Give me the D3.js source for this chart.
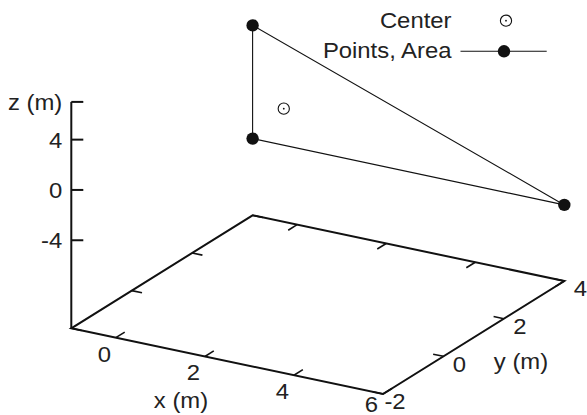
<!DOCTYPE html>
<html><head><meta charset="utf-8">
<script src="https://cdn.jsdelivr.net/npm/d3@7"></script>
<style>body{margin:0;background:#fff}text{font-family:"Liberation Sans",Arial,sans-serif;fill:#222}</style>
</head><body>
<svg id="c" width="587" height="415"></svg>
<script>
// ---- data ----
const pointsX = [-1, -1, 6];
const pointsY = [4, 4, 4];
const pointsZ = [4.1, -4.9, -4.95];
const centerX = [-0.3];
const centerY = [4];
const centerZ = [-2];
const xTicks = [0, 2, 4, 6];
const yTicks = [-2, 0, 2, 4];
const zTicks = [-4, 0, 4];
const xDomain = [-1, 6], yDomain = [-2, 4], zDomain = [-11, 7];
const legendLabels = ["Center", "Points, Area"];
const axisLabels = {x: "x (m)", y: "y (m)", z: "z (m)"};

// ---- projection built from d3 scales ----
const FS = 22, SX = 1.085;
const svg = d3.select("#c");
const O = [71.3, 328.3];
const EX = [311.7, 65.7], EY = [181.3, -113];
const tx = d3.scaleLinear().domain(xDomain).range([0, 1]);
const ty = d3.scaleLinear().domain(yDomain).range([0, 1]);
const zs = d3.scaleLinear().domain(zDomain).range([0, 226.4]);
function proj(x, y, z) {
  const a = tx(x), b = ty(y), h = zs(z === undefined ? zDomain[0] : z);
  return [O[0] + a*EX[0] + b*EY[0], O[1] + a*EX[1] + b*EY[1] - h];
}
function unit(v){const l=Math.hypot(v[0],v[1]);return [v[0]/l,v[1]/l];}
const ux = unit(EX), uy = unit(EY);
const line = d3.line();

const g = svg.append("g");
function txt(x, y, s, anchor) {
  return g.append("text").attr("transform", `translate(${x},${y}) scale(${SX},1)`)
    .attr("text-anchor", anchor).attr("font-size", FS).text(s);
}
// base
const corners = [proj(xDomain[0], yDomain[0]), proj(xDomain[1], yDomain[0]), proj(xDomain[1], yDomain[1]), proj(xDomain[0], yDomain[1])];
g.append("path").attr("d", line(corners) + "Z").attr("fill", "none").attr("stroke", "#111").attr("stroke-width", 2).attr("stroke-linejoin","miter");
// z axis
const zb = proj(xDomain[0], yDomain[0], zDomain[0]), zt = proj(xDomain[0], yDomain[0], zDomain[1]);
g.append("line").attr("x1", zb[0]).attr("y1", zb[1]).attr("x2", zt[0]).attr("y2", zt[1]).attr("stroke", "#111").attr("stroke-width", 2);
const ZL = 12, TL = 10.5;
[...zTicks, zDomain[1]].forEach(z => {
  const p = proj(xDomain[0], yDomain[0], z);
  g.append("line").attr("x1", p[0]).attr("y1", p[1]).attr("x2", p[0] + ZL).attr("y2", p[1]).attr("stroke", "#111").attr("stroke-width", 2);
});
zTicks.forEach(z => {
  const p = proj(xDomain[0], yDomain[0], z);
  txt(p[0] - 9, p[1] + 0.358*FS, z, "end");
});
{
  const p = proj(xDomain[0], yDomain[0], zDomain[1]);
  txt(p[0] - 9, p[1] + 0.358*FS, axisLabels.z, "end");
}
// x ticks
xTicks.forEach(x => {
  const f = proj(x, yDomain[0]), b = proj(x, yDomain[1]);
  g.append("line").attr("x1", f[0]).attr("y1", f[1]).attr("x2", f[0] + uy[0]*TL).attr("y2", f[1] + uy[1]*TL).attr("stroke", "#111").attr("stroke-width", 1.6);
  g.append("line").attr("x1", b[0]).attr("y1", b[1]).attr("x2", b[0] - uy[0]*TL).attr("y2", b[1] - uy[1]*TL).attr("stroke", "#111").attr("stroke-width", 1.6);
  txt(f[0] - 11.5, Math.min(f[1] + 16 + 0.358*FS, 411.5), x, "middle");
});
// y ticks
yTicks.forEach(y => {
  const r = proj(xDomain[1], y), l = proj(xDomain[0], y);
  g.append("line").attr("x1", r[0]).attr("y1", r[1]).attr("x2", r[0] - ux[0]*TL).attr("y2", r[1] - ux[1]*TL).attr("stroke", "#111").attr("stroke-width", 1.6);
  g.append("line").attr("x1", l[0]).attr("y1", l[1]).attr("x2", l[0] + ux[0]*TL).attr("y2", l[1] + ux[1]*TL).attr("stroke", "#111").attr("stroke-width", 1.6);
  txt(r[0] + 22.6, Math.min(r[1] + 7.5 + 0.358*FS, 411.5), y, "end");
});
txt(181, 400 + 0.358*FS, axisLabels.x, "middle");
txt(521, 361 + 0.358*FS, axisLabels.y, "middle");

// data: triangle
const pts = pointsX.map((x, i) => proj(x, pointsY[i], pointsZ[i]));
g.append("path").attr("d", line([...pts, pts[0]])).attr("fill", "none").attr("stroke", "#111").attr("stroke-width", 1.1);
g.selectAll(".pt").data(pts).enter().append("circle").attr("cx", d => d[0]).attr("cy", d => d[1]).attr("r", 6.2).attr("fill", "#111");
// center
const cps = centerX.map((x, i) => proj(x, centerY[i], centerZ[i]));
cps.forEach(c => {
  g.append("circle").attr("cx", c[0]).attr("cy", c[1]).attr("r", 5.6).attr("fill", "none").attr("stroke", "#111").attr("stroke-width", 1.1);
  g.append("circle").attr("cx", c[0]).attr("cy", c[1]).attr("r", 0.9).attr("fill", "#111");
});

// legend
txt(451.5, 28.3, legendLabels[0], "end");
g.append("circle").attr("cx", 506).attr("cy", 20.7).attr("r", 5.6).attr("fill", "none").attr("stroke", "#111").attr("stroke-width", 1.1);
g.append("circle").attr("cx", 506).attr("cy", 20.7).attr("r", 0.9).attr("fill", "#111");
txt(451.5, 58.3, legendLabels[1], "end");
g.append("line").attr("x1", 460.5).attr("y1", 51.3).attr("x2", 546.7).attr("y2", 51.3).attr("stroke", "#111").attr("stroke-width", 1.1);
g.append("circle").attr("cx", 504).attr("cy", 51.3).attr("r", 6.2).attr("fill", "#111");
</script>
</body></html>
